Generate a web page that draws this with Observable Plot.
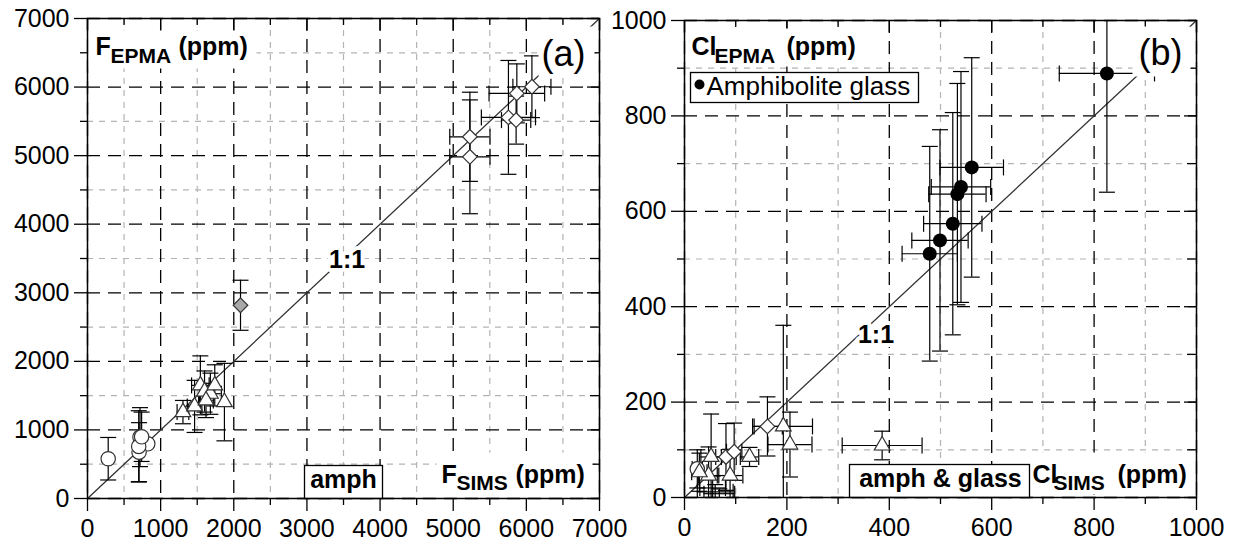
<!DOCTYPE html>
<html><head><meta charset="utf-8">
<script src="https://cdn.jsdelivr.net/npm/d3@7"></script>
<script src="https://cdn.jsdelivr.net/npm/@observablehq/plot@0.6"></script>
<style>
body{margin:0;background:#fff;}
#wrap{display:flex;width:1237px;height:551px;overflow:visible;}
#wrap svg{overflow:visible;flex:none;}
</style></head><body><div id="wrap"></div>
<script>
// ---------- Panel (a): F ----------
const aMajorTicks = [0,1000,2000,3000,4000,5000,6000,7000];
const aMinorTicks = [500,1500,2500,3500,4500,5500,6500];
const aType = ["circle","circle","circle","circle","circle","circle",
  "triangle","triangle","triangle","triangle","triangle","triangle","triangle","triangle",
  "diamond","diamond","diamond","diamond","diamond","diamond","gray"];
const aSims = [283,718,824,705,700,740, 1305,1464,1543,1600,1680,1620,1872,1740, 5228,5228,5870,6076,5755,5860, 2092];
const aEpma = [580,895,798,676,760,900, 1260,1343,1650,1560,1528,1430,1406,1650, 5275,4983,5908,6005,5558,5518, 2818];
const aSimsErr = [0,0,0,0,0,0, 80,100,120,0,150,100,0,0, 275,275,380,260,370,200, 0];
const aEpmaErr = [310,430,0,430,520,360, 170,380,430,300,300,250,565,300, 650,830,430,450,830,350, 365];
const aOneToOne = [0,7000];

// ---------- Panel (b): Cl ----------
const bMajorTicks = [0,200,400,600,800,1000];
const bMinorTicks = [100,300,500,700,900];
const bType = ["circle",
  "triangle","triangle","triangle","triangle","triangle","triangle","triangle","triangle",
  "diamond","diamond","diamond",
  "bar","bar","bar",
  "glass","glass","glass","glass","glass","glass","glass"];
const bSims = [25, 52,47,89,29,127,193,206,386, 81,97,162, 60,68,55, 479,499,524,533,540,561,825];
const bEpma = [60, 85,46,46,53,85,149,111,109, 85,96,149, 12,8,20, 511,539,574,636,651,692,889];
const bSimsErr = [10, 20,20,25,15,18,57,43,78, 20,15,29, 35,30,25, 54,55,57,56,58,62,93];
const bEpmaErr = [40, 90,60,55,40,20,212,68,30, 70,60,62, 15,10,25, 225,232,233,232,242,230,249];
const bOneToOne = [0,1000];

const FONT = "'Liberation Sans', Arial, Helvetica, sans-serif";
const rows = (t,x,y,xe,ye) => t.map((k,i)=>({type:k,x:x[i],y:y[i],xe:xe[i],ye:ye[i]}));
const aData = rows(aType,aSims,aEpma,aSimsErr,aEpmaErr);
const bData = rows(bType,bSims,bEpma,bSimsErr,bEpmaErr);

const hcap = {draw(c){c.moveTo(-8,0);c.lineTo(8,0);}};
const vcap = {draw(c){c.moveTo(0,-8);c.lineTo(0,8);}};

function errorMarks(data){
  const v = data.filter(d=>d.ye>0), h = data.filter(d=>d.xe>0);
  const s = {stroke:"black", strokeWidth:1.2, clip:true};
  return [
    Plot.ruleX(v,{x:"x",y1:d=>d.y-d.ye,y2:d=>d.y+d.ye,...s}),
    Plot.ruleY(h,{y:"y",x1:d=>d.x-d.xe,x2:d=>d.x+d.xe,...s}),
    Plot.dot(v,{x:"x",y:d=>d.y-d.ye,symbol:hcap,fill:"none",...s}),
    Plot.dot(v,{x:"x",y:d=>d.y+d.ye,symbol:hcap,fill:"none",...s}),
    Plot.dot(h,{x:d=>d.x-d.xe,y:"y",symbol:vcap,fill:"none",...s}),
    Plot.dot(h,{x:d=>d.x+d.xe,y:"y",symbol:vcap,fill:"none",...s})
  ];
}
function symbolMarks(data){
  const st = {x:"x",y:"y",stroke:"#333",strokeWidth:1.2};
  return [
    Plot.dot(data.filter(d=>d.type==="circle"),{...st,r:7.2,fill:"white"}),
    Plot.dot(data.filter(d=>d.type==="triangle"),{...st,symbol:"triangle",r:5.8,fill:"white"}),
    Plot.dot(data.filter(d=>d.type==="diamond"),{...st,symbol:"diamond2",r:6.6,fill:"white"}),
    Plot.dot(data.filter(d=>d.type==="gray"),{...st,symbol:"diamond2",r:6.6,fill:"#a8a8a8"}),
    Plot.dot(data.filter(d=>d.type==="glass"),{x:"x",y:"y",r:7,fill:"black"})
  ];
}
function geom(g){ return {...g, innerW:g.width-g.left-g.right, innerH:551-g.top-g.bottom}; }
function box(g,x0,y0,x1,y1,border){
  return Plot.frame({fill:"white", stroke: border ? "black" : "none", strokeWidth:1.3,
    insetLeft:x0-(g.offset+g.left), insetRight:(g.offset+g.left+g.innerW)-x1,
    insetTop:y0-g.top, insetBottom:(g.top+g.innerH)-y1});
}
function label(g,str,x,y,o={}){
  return Plot.text([str],{text:d=>d,frameAnchor:"top-left",dx:x-(g.offset+g.left),dy:y-g.top,
    lineAnchor:"bottom",textAnchor:"start",fontSize:25,fontWeight:"bold",fill:"black",...o});
}
function axes(g,major,minor){
  const ts = {stroke:"black",strokeWidth:1.3};
  return [
    Plot.axisX({ticks:major,tickSize:13,tickPadding:8,tickFormat:d3.format("d"),fontSize:25,label:null,...ts}),
    Plot.axisX({ticks:minor,tickSize:7,tickFormat:()=>"",label:null,...ts}),
    Plot.axisY({ticks:major,tickSize:13,tickPadding:5,tickFormat:d3.format("d"),fontSize:25,label:null,...ts}),
    Plot.axisY({ticks:minor,tickSize:7,tickFormat:()=>"",label:null,...ts}),
    Plot.ruleX(major,{insetBottom:g.innerH-12,...ts}),
    Plot.ruleX(minor,{insetBottom:g.innerH-7,...ts}),
    Plot.ruleY(major,{insetLeft:g.innerW-12,...ts}),
    Plot.ruleY(minor,{insetLeft:g.innerW-9,...ts})
  ];
}
function grids(major,minor){
  const mi = {stroke:"#b4b4b4",strokeOpacity:1,strokeWidth:1.2,strokeDasharray:"6,6"};
  const ma = {stroke:"black",strokeOpacity:1,strokeWidth:1.3,strokeDasharray:"13,8"};
  return [Plot.gridX({ticks:minor,...mi}),Plot.gridY({ticks:minor,...mi}),
          Plot.gridX({ticks:major,...ma}),Plot.gridY({ticks:major,...ma})];
}

// Panel A
const gA = geom({offset:0,width:610,left:87,right:11,top:18,bottom:53});
const plotA = Plot.plot({
  width:gA.width, height:551, marginLeft:gA.left, marginRight:gA.right, marginTop:gA.top, marginBottom:gA.bottom,
  style:{fontFamily:FONT,fontSize:"25px",color:"black",background:"transparent",overflow:"visible"},
  x:{domain:[0,7000]}, y:{domain:[0,7000]},
  marks:[
    ...grids(aMajorTicks,aMinorTicks),
    Plot.line(aOneToOne,{x:d=>d,y:d=>d,stroke:"#333",strokeWidth:1.3}),
    Plot.text(["1:1"],{x:()=>3550,y:()=>3480,text:d=>d,fontSize:25,fontWeight:"bold",fill:"black",stroke:"white",strokeWidth:8}),
    ...axes(gA,aMajorTicks,aMinorTicks),
    ...errorMarks(aData),
    ...symbolMarks(aData),
    box(gA,88,30,256,68), box(gA,538,26,594,76), box(gA,436,452,592,494), box(gA,304,465,382,498,true),
    label(gA,"F",95,54), label(gA,"EPMA",110,62,{fontSize:21}), label(gA,"(ppm)",178,54),
    label(gA,"(a)",563,65,{fontSize:36,fontWeight:"normal",textAnchor:"middle"}),
    label(gA,"F",441,482), label(gA,"SIMS",456,489,{fontSize:21}), label(gA,"(ppm)",515,482),
    label(gA,"amph",343,487,{textAnchor:"middle"}),
    Plot.frame({stroke:"black",strokeWidth:1.5})
  ]
});

// Panel B
const gB = geom({offset:610,width:627,left:74,right:41,top:20,bottom:54});
const plotB = Plot.plot({
  width:gB.width, height:551, marginLeft:gB.left, marginRight:gB.right, marginTop:gB.top, marginBottom:gB.bottom,
  style:{fontFamily:FONT,fontSize:"25px",color:"black",background:"transparent",overflow:"visible"},
  x:{domain:[0,1000]}, y:{domain:[0,1000]},
  marks:[
    ...grids(bMajorTicks,bMinorTicks),
    Plot.line(bOneToOne,{x:d=>d,y:d=>d,stroke:"#333",strokeWidth:1.3}),
    Plot.text(["1:1"],{x:()=>374,y:()=>340,text:d=>d,fontSize:25,fontWeight:"bold",fill:"black",stroke:"white",strokeWidth:8}),
    ...axes(gB,bMajorTicks,bMinorTicks),
    ...errorMarks(bData),
    ...symbolMarks(bData),
    box(gB,686,28,862,66), box(gB,1132,26,1190,76), box(gB,1029,452,1192,494),
    box(gB,690,72,918,102,true), box(gB,849,464,1029,497,true),
    label(gB,"Cl",691,54), label(gB,"EPMA",714,62,{fontSize:21}), label(gB,"(ppm)",786,54),
    Plot.dot([0],{frameAnchor:"top-left",dx:699-(gB.offset+gB.left),dy:84-gB.top,r:5,fill:"black"}),
    label(gB,"Amphibolite glass",706,94,{fontSize:26,fontWeight:"normal"}),
    label(gB,"(b)",1160,64,{fontSize:36,fontWeight:"normal",textAnchor:"middle"}),
    label(gB,"Cl",1032,482), label(gB,"SIMS",1053,489,{fontSize:21}), label(gB,"(ppm)",1117,482),
    label(gB,"amph & glass",940,486,{textAnchor:"middle"}),
    Plot.frame({stroke:"black",strokeWidth:1.5})
  ]
});
document.getElementById("wrap").append(plotA, plotB);
</script></body></html>
